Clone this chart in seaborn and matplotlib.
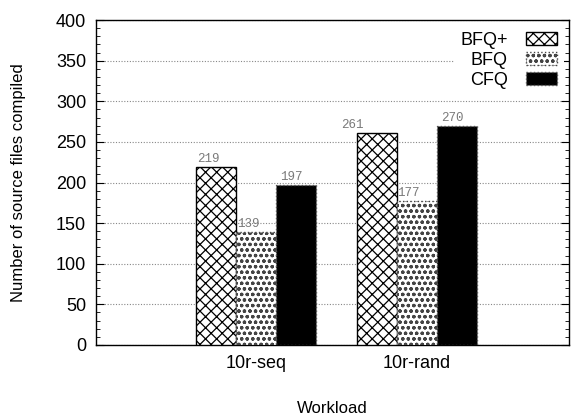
import matplotlib
matplotlib.use("Agg")
import matplotlib.pyplot as plt
from matplotlib.patches import Patch
from matplotlib.ticker import MultipleLocator
import seaborn as sns
import pandas as pd

workloads = ["10r-seq", "10r-rand"]
schedulers = ["BFQ+", "BFQ", "CFQ"]
bfq_plus = [219, 261]
bfq = [139, 177]
cfq = [197, 270]

df = pd.DataFrame({
    "Workload": workloads * 3,
    "Scheduler": [s for s in schedulers for _ in workloads],
    "Files": bfq_plus + bfq + cfq,
})

sns.set_theme(style="white")
plt.rcParams["font.family"] = ["Liberation Sans", "DejaVu Sans"]
plt.rcParams["hatch.linewidth"] = 0.9
plt.rcParams["text.color"] = "black"
plt.rcParams["axes.labelcolor"] = "black"
plt.rcParams["xtick.color"] = "black"
plt.rcParams["ytick.color"] = "black"

styles = {
    "BFQ+": dict(facecolor="white", hatch="xxx", edgecolor="black", linestyle="-"),
    "BFQ": dict(facecolor="white", hatch="ooo", edgecolor="#444444", linestyle=":"),
    "CFQ": dict(facecolor="black", hatch=None, edgecolor="#555555", linestyle=":"),
}

fig = plt.figure(figsize=(5.71, 4.17), dpi=100)
ax = fig.add_axes([0.168, 0.1727, 0.8285, 0.7793])

sns.barplot(data=df, x="Workload", y="Files", hue="Scheduler", order=workloads,
            hue_order=schedulers, width=0.75, dodge=True, ax=ax, legend=False,
            saturation=1, zorder=3)

label_dx_px = {"BFQ+": [-7.5, -24], "BFQ": [-8, -8], "CFQ": [-5, -4]}
for cont, s in zip(ax.containers, schedulers):
    st = styles[s]
    for j, bar in enumerate(cont):
        bar.set_facecolor(st["facecolor"])
        bar.set_edgecolor(st["edgecolor"])
        bar.set_linestyle(st["linestyle"])
        bar.set_linewidth(1.0)
        if st["hatch"]:
            bar.set_hatch(st["hatch"])
        x = bar.get_x() + bar.get_width() / 2
        h = bar.get_height()
        ax.annotate(f"{int(h)}", (x, h), xytext=(label_dx_px[s][j] * 0.72, 1.5),
                    textcoords="offset points", ha="center", va="bottom",
                    fontsize=9, color="#7a7a7a", family="Liberation Mono")

ax.set_xlim(-1.0, 1.95)
ax.set_ylim(0, 400)
ax.yaxis.set_major_locator(MultipleLocator(50))
ax.yaxis.set_minor_locator(MultipleLocator(10))
ax.tick_params(axis="y", which="major", direction="in", length=6, width=0.8,
               labelsize=13, right=True, left=True, color="black", pad=7)
ax.tick_params(axis="y", which="minor", direction="in", length=3, width=0.6,
               right=True, left=True, color="black")
ax.tick_params(axis="x", length=0, labelsize=13, pad=7)
for sp in ax.spines.values():
    sp.set_visible(True)
    sp.set_color("black")
    sp.set_linewidth(1.0)

ax.yaxis.grid(True, which="major", linestyle=(0, (1, 1.5)), color="#888888",
              linewidth=0.8, zorder=0)
ax.set_axisbelow(True)

ax.set_xlabel("Workload", fontsize=12)
ax.set_ylabel("Number of source files compiled", fontsize=12)
ax.xaxis.set_label_coords(0.5, -0.172)
ax.yaxis.set_label_coords(-0.163, 0.5)
ax.yaxis.label.set_va("center")

handles = [Patch(facecolor=styles[s]["facecolor"], edgecolor=styles[s]["edgecolor"],
                 hatch=styles[s]["hatch"], linestyle=styles[s]["linestyle"],
                 linewidth=1.0, label=s) for s in schedulers]
leg = ax.legend(handles=handles, loc="upper right", markerfirst=False,
                fontsize=13, frameon=True, facecolor="white", edgecolor="none",
                framealpha=1, handlelength=1.75, handleheight=0.7,
                labelspacing=0.16, borderaxespad=0.3, borderpad=0.35,
                handletextpad=1.0, fancybox=False)
leg.set_zorder(5)

fig.savefig("out.png", dpi=100)
